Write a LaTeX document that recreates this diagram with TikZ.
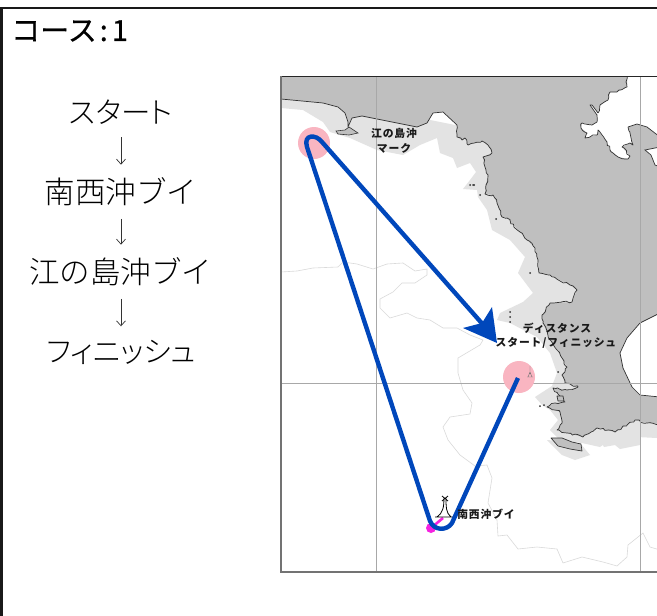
\documentclass[tikz,border=0pt]{standalone}
\usepackage{fontspec}
\usetikzlibrary{arrows.meta,decorations.pathmorphing}
\newfontfamily\cjk{Noto Sans CJK JP Light}
\newfontfamily\cjkp[RawFeature={+palt}]{Noto Sans CJK JP Light}
\newfontfamily\cjkt[FakeBold=0.5]{Noto Sans CJK JP}
\newfontfamily\cjkl[LetterSpace=8]{Noto Sans CJK JP}
\tikzset{
  step text/.style={inner sep=0pt,minimum height=25pt,font=\cjk\fontsize{30.5}{30}\selectfont,text=black},
  kana text/.style={inner sep=0pt,minimum height=25pt,font=\cjkp\fontsize{29.5}{30}\selectfont,text=black},
  flow/.style={draw=black!80,line width=0.7pt,-{Straight Barb[length=5pt,width=9pt]},shorten >=13pt,shorten <=12.5pt},
  map label/.style={inner sep=0pt,font=\cjkl\bfseries\fontsize{10.8}{10.8}\selectfont,text=black!90},
  land/.style={fill=landgray,draw=coast,line width=0.7pt,line join=round},
  jag/.style={decorate,decoration={random steps,segment length=3pt,amplitude=1.1pt}},
  shallow/.style={fill=shoal,draw=none},
  contour/.style={draw=contourgray,line width=0.6pt,line join=round},
  gridline/.style={draw=gridgray,line width=0.8pt},
  course/.style={draw=courseblue,line width=4.4pt,line join=round,line cap=butt},
  zone/.style={fill=zonepink,draw=none},
}
\definecolor{landgray}{HTML}{BFBFBF}
\definecolor{shoal}{HTML}{E3E3E3}
\definecolor{coast}{HTML}{333333}
\definecolor{contourgray}{HTML}{DADADA}
\definecolor{gridgray}{HTML}{A8A8A8}
\definecolor{courseblue}{HTML}{0047BB}
\definecolor{zonepink}{HTML}{F9B5C1}
\definecolor{buoypink}{HTML}{F522E0}
\pgfmathsetseed{7}
\begin{document}
\begin{tikzpicture}[x=1pt,y=-1pt]
\useasboundingbox (0,0) rectangle (657,616);
\fill[white] (0,0) rectangle (657,616);
% frame
\draw[black!90,line width=2.4pt] (1.5,616) -- (1.5,8) -- (657,8);
% map
\begin{scope}
\clip (281,76) rectangle (657,572);
\path[shallow] (281,108) -- (303,110) -- (323,122) -- (330,132) -- (350,138) -- (377,150) -- (403,155) -- (420,145) -- (437,138) -- (440,153) -- (453,158) -- (457,168) -- (470,163) -- (476,172) -- (470,180) -- (463,189) -- (477,190) -- (478,197) -- (487,210) -- (492,230) -- (510,240) -- (525,257) -- (518,273) -- (533,293) -- (523,302) -- (500,313) -- (497,320) -- (510,323) -- (537,337) -- (550,353) -- (557,373) -- (552,386) -- (535,397) -- (542,405) -- (550,410) -- (558,420) -- (550,430) -- (560,440) -- (582,443) -- (600,447) -- (607,442) -- (637,437) -- (657,438) -- (657,415) -- (600,400) -- (600,280) -- (540,200) -- (480,130) -- (281,90) -- cycle;
\path[shallow] (547,440) -- (562,455) -- (575,460) -- (590,455) -- (580,443) -- cycle;
\path[shallow] (600,440) -- (604,447) -- (615,445) -- (620,449) -- (640,445) -- (640,436) -- cycle;
% land: smooth western shore, broken shores elsewhere
\path[land,fill=landgray,draw=none] (281,76) -- (281,99) -- (323,103) -- (338,107) -- (345,113) -- (348,122) -- (348,127) -- (352,118) -- (362,116) -- (377,119) -- (397,123) -- (417,127) -- (427,123) -- (433,113) -- (443,112) -- (457,125) -- (457,137) -- (462,140) -- (465,138) -- (468,145) -- (482,141) -- (488,145) -- (492,153) -- (483,157) -- (485,167) -- (488,175) -- (486,185) -- (485,194) -- (493,195) -- (497,203) -- (502,217) -- (507,218) -- (520,232) -- (527,240) -- (535,248) -- (538,260) -- (539,273) -- (550,275) -- (570,285) -- (577,290) -- (572,302) -- (550,303) -- (542,315) -- (543,323) -- (550,340) -- (557,350) -- (567,367) -- (562,375) -- (565,383) -- (578,387) -- (567,390) -- (553,388) -- (558,394) -- (565,402) -- (555,403) -- (547,407) -- (560,412) -- (562,423) -- (557,430) -- (567,433) -- (583,437) -- (597,428) -- (615,432) -- (635,420) -- (647,423) -- (660,424) -- (660,397) -- (640,395) -- (632,387) -- (623,368) -- (620,353) -- (627,338) -- (640,323) -- (660,313) -- (660,137) -- (647,127) -- (637,124) -- (628,127) -- (633,145) -- (630,143) -- (622,147) -- (630,156) -- (628,159) -- (618,157) -- (610,150) -- (607,142) -- (598,130) -- (597,135) -- (585,138) -- (587,133) -- (581,128) -- (582,123) -- (592,125) -- (597,122) -- (597,115) -- (590,105) -- (592,105) -- (598,113) -- (600,105) -- (608,100) -- (610,92) -- (617,92) -- (627,87) -- (627,76) -- cycle;
% shore lines
\draw[coast,line width=0.7pt,line join=round] (281,99) -- (323,103) -- (338,107) -- (345,113) -- (348,122) -- (348,127) -- (352,118) -- (362,116) -- (377,119) -- (397,123) -- (417,127) -- (427,123) -- (433,113) -- (443,112) -- (457,125);
\draw[coast,line width=0.7pt,line join=round,jag] (457,125) -- (457,137) -- (462,140) -- (465,138) -- (468,145) -- (482,141) -- (488,145) -- (492,153) -- (483,157) -- (485,167) -- (488,175) -- (486,185) -- (485,194) -- (493,195) -- (497,203) -- (502,217) -- (507,218) -- (520,232) -- (527,240) -- (535,248) -- (538,260) -- (539,273) -- (550,275) -- (570,285) -- (577,290) -- (572,302) -- (550,303) -- (542,315) -- (543,323) -- (550,340) -- (557,350) -- (567,367) -- (562,375) -- (565,383) -- (578,387) -- (567,390) -- (553,388) -- (558,394) -- (565,402) -- (555,403) -- (547,407) -- (560,412) -- (562,423) -- (557,430) -- (567,433) -- (583,437) -- (597,428) -- (615,432) -- (635,420) -- (647,423) -- (660,424);
\draw[coast,line width=0.7pt,line join=round] (660,397) -- (640,395) -- (632,387) -- (623,368) -- (620,353) -- (627,338) -- (640,323) -- (660,313);
\draw[coast,line width=0.7pt,line join=round] (660,137) -- (647,127) -- (637,124) -- (628,127);
\draw[coast,line width=0.7pt,line join=round,jag] (628,127) -- (633,145) -- (630,143) -- (622,147) -- (630,156) -- (628,159) -- (618,157) -- (610,150) -- (607,142) -- (598,130) -- (597,135) -- (585,138) -- (587,133) -- (581,128) -- (582,123) -- (592,125) -- (597,122) -- (597,115);
\draw[coast,line width=0.7pt,line join=round] (597,115) -- (590,105) -- (592,105) -- (598,113);
\draw[coast,line width=0.7pt,line join=round,jag] (598,113) -- (600,105) -- (608,100) -- (610,92) -- (617,92) -- (627,87) -- (627,76);
% inlet on the right
\path[fill=white,draw=coast,line width=0.7pt] (660,147) -- (645,150) -- (651,155) -- (655,165) -- (660,167) -- cycle;
% islets
\path[fill=landgray,draw=coast,line width=0.6pt] (336,131) -- (345,130) -- (349,127) -- (358,133) -- (349,135) -- (338,134) -- cycle;
\path[land] (551,438) -- (562,438) -- (572,442) -- (581,444) -- (582,451) -- (570,449) -- (558,446) -- cycle;
\path[land] (557,396) -- (563,396) -- (564,401) -- (558,401) -- cycle;
\foreach \px/\py in {470/185,474/185,480/195,496/219,530/273,510/312,510/317,510/322,558/372,540/406,544/405,473/185}
  \fill[coast] (\px,\py) circle (1);
\draw[contour] (281,272) -- (297,271) -- (313,268) -- (338,267) -- (343,262) -- (357,264) -- (373,269) -- (387,264) -- (403,263) -- (415,271) -- (427,269) -- (427,275) -- (415,283) -- (402,283) -- (393,292) -- (380,299) -- (380,308) -- (390,318) -- (407,313) -- (417,318) -- (430,320) -- (443,328) -- (457,328) -- (470,335) -- (483,340) -- (480,345) -- (458,358) -- (458,373) -- (463,390) -- (472,403) -- (470,414) -- (450,417) -- (443,427) -- (448,440) -- (460,455) -- (475,466) -- (487,465) -- (492,478) -- (488,503) -- (497,520) -- (498,536) -- (507,535) -- (518,549) -- (537,547) -- (557,549) -- (563,563) -- (582,557) -- (603,562) -- (617,566) -- (627,557) -- (628,545) -- (643,533) -- (650,547) -- (660,550);
\draw[gridline] (376.5,76) -- (376.5,572);
\draw[gridline] (640,76) -- (640,572);
\draw[gridline] (281,383.5) -- (657,383.5);
\end{scope}
\draw[black!85,line width=1pt] (281,76) -- (657,76);
\draw[black!55,line width=1.2pt] (281,76) -- (281,572) -- (657,572);
% zones
\fill[zone] (314,143) circle (16);
\fill[zone] (519,377) circle (16);
% start buoy
\draw[black!55,line width=0.4pt] (530,366) -- (530,374) (527,377) -- (533,377) (528,377) -- (530,372) -- (532,377);
% south-west buoy mark
\draw[buoypink,line width=2.6pt] (431,528) -- (443,518);
\fill[buoypink] (431,528) circle (5);
\draw[black,line width=0.8pt] (435,517) -- (453,517) (437,517) .. controls (443,513) and (444,507) .. (444,497) (451,517) .. controls (446,513) and (446,507) .. (446,497) (442,496) -- (448,501) (448,496) -- (442,501);
% course
\coordinate (crsA) at (518,378);
\coordinate (crsB) at (452,523);
\coordinate (crsC) at (430,521);
\coordinate (crsD) at (307,147);
\coordinate (crsE) at (322,142);
\coordinate (crsF) at (486,328);
\draw[course] (crsA) -- (crsB) .. controls (447,531) and (434,531) .. (crsC) -- (crsD) .. controls (303,134) and (316,134) .. (crsE) -- (crsF);
\fill[courseblue] (497,343) -- (492,307) -- (482,323) -- (463,328) -- cycle;
% map labels
\node[map label] (lblA) at (394,133) {江の島沖};
\node[map label] (lblB) at (394,148) {マーク};
\node[map label] (lblC) at (557,328) {ディスタンス};
\node[map label] (lblD) at (556,343) {スタート/フィニッシュ};
\node[map label] (lblE) at (486,514) {南西沖ブイ};
% title
\node[anchor=west,inner sep=0pt,font=\cjkt\fontsize{29}{29}\selectfont] (ttl) at (11,31) {コース\hspace{3pt}:\hspace{4pt}1};
% sequence
\node[kana text] (s1) at (121,112) {スタート};
\node[step text] (s2) at (121,192) {南西沖ブイ};
\node[step text] (s3) at (121,272) {江の島沖ブイ};
\node[kana text] (s4) at (121,352) {フィニッシュ};
\draw[flow] (s1) -- (s2);
\draw[flow] (s2) -- (s3);
\draw[flow] (s3) -- (s4);
\end{tikzpicture}
\end{document}
